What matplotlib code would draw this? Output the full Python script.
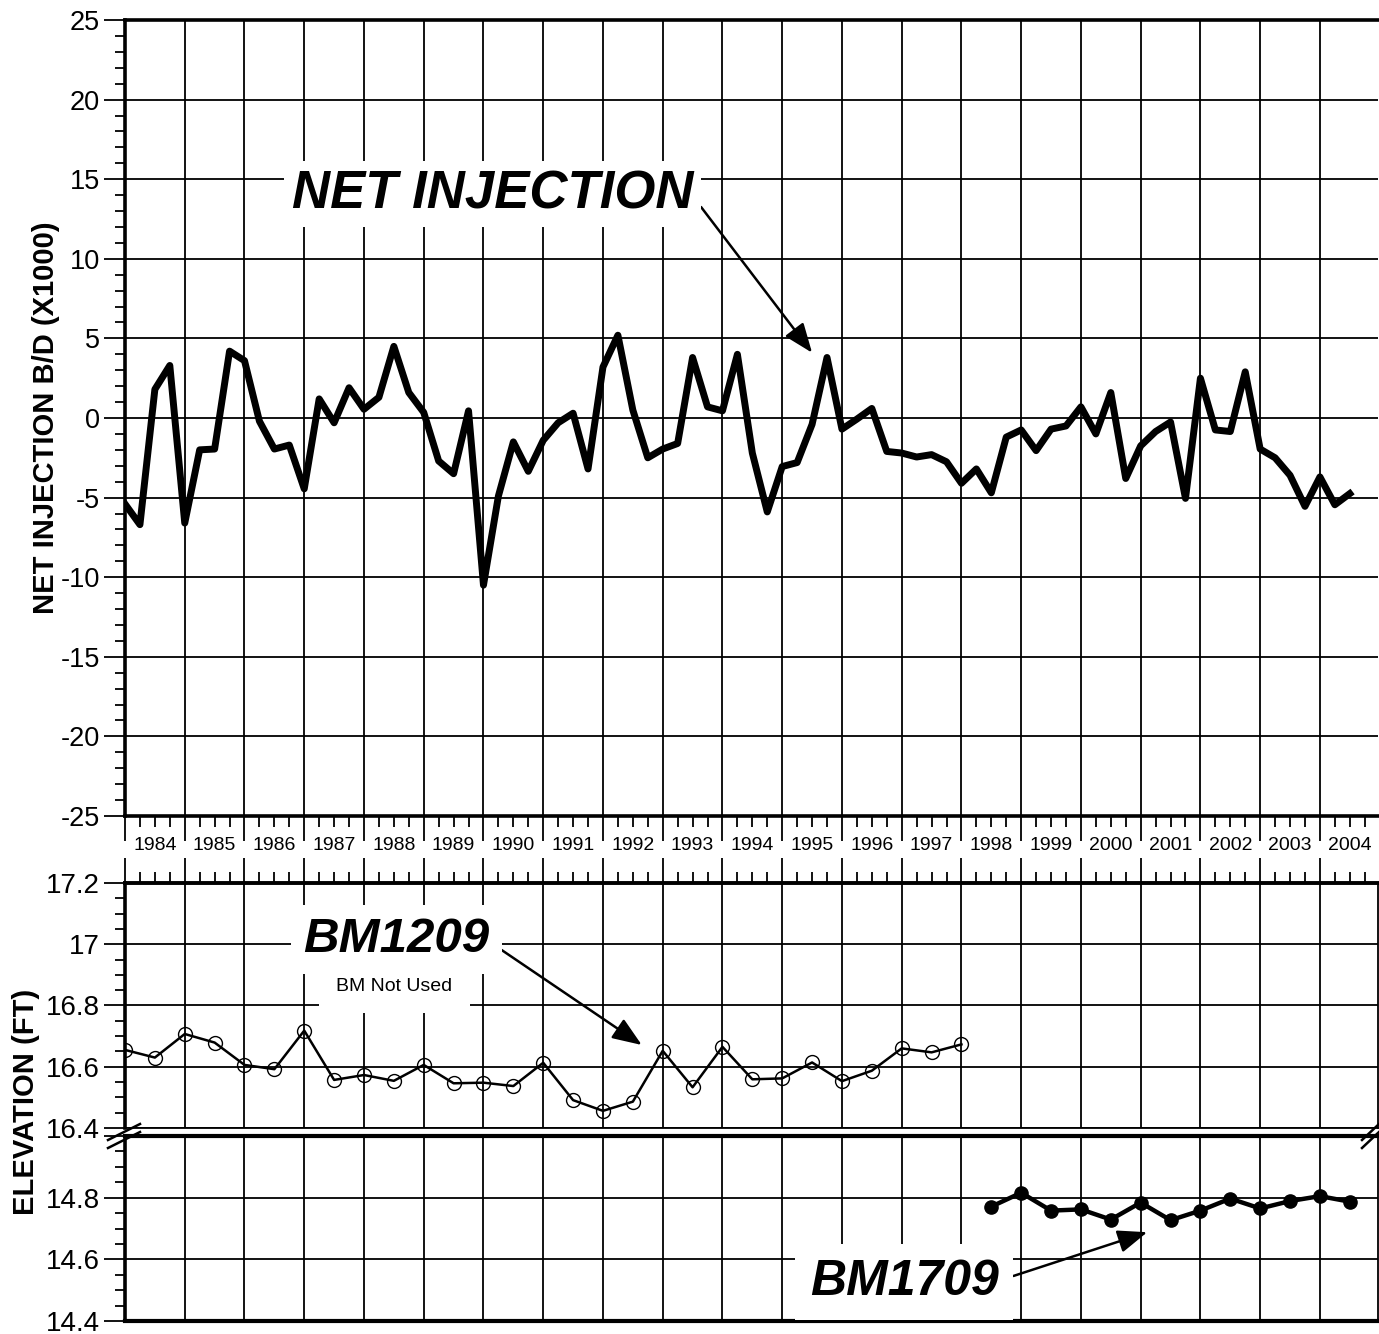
import numpy as np
import matplotlib
matplotlib.use('Agg')
import matplotlib.pyplot as plt
from matplotlib.lines import Line2D
from matplotlib.ticker import MultipleLocator, FixedLocator

plt.rcParams['font.family'] = ['Liberation Sans', 'DejaVu Sans']
plt.rcParams['axes.unicode_minus'] = False

# net injection, quarterly from 1984.0 (B/D x1000)
inj_start = 1984.0
inj_step = 0.25
net_injection = [-5.4, -6.7, 1.8, 3.3,
                 -6.6, -2.0, -1.95, 4.2,
                 3.6, -0.2, -1.95, -1.7,
                 -4.45, 1.2, -0.3, 1.9,
                 0.55, 1.3, 4.5, 1.6,
                 0.35, -2.7, -3.5, 0.45,
                 -10.5, -4.9, -1.5, -3.35,
                 -1.4, -0.3, 0.3, -3.2,
                 3.2, 5.2, 0.5, -2.5,
                 -1.95, -1.6, 3.8, 0.7,
                 0.45, 4.0, -2.2, -5.9,
                 -3.05, -2.8, -0.4, 3.8,
                 -0.7, -0.07, 0.6, -2.1,
                 -2.2, -2.45, -2.3, -2.75,
                 -4.1, -3.2, -4.7, -1.2,
                 -0.75, -2.05, -0.7, -0.5,
                 0.7, -1.0, 1.6, -3.8,
                 -1.75, -0.85, -0.25, -5.05,
                 2.5, -0.75, -0.85, 2.9,
                 -1.95, -2.5, -3.6, -5.55,
                 -3.7, -5.45, -4.75]

# benchmark elevations (ft), semi-annual surveys
bm1209_start = 1984.0
bm1209 = [16.655, 16.63, 16.707, 16.679, 16.606, 16.592, 16.718, 16.557,
          16.573, 16.554, 16.606, 16.546, 16.548, 16.537, 16.613, 16.491,
          16.456, 16.486, 16.652, 16.533, 16.665, 16.559, 16.562, 16.614,
          16.553, 16.587, 16.660, 16.647, 16.673]
bm1709_start = 1998.5
bm1709 = [14.771, 14.816, 14.758, 14.762, 14.729, 14.784, 14.727, 14.758,
          14.797, 14.765, 14.789, 14.805, 14.787]
survey_step = 0.5

years = list(range(1984, 2005))

t_inj = inj_start + inj_step * np.arange(len(net_injection))
t_1209 = bm1209_start + survey_step * np.arange(len(bm1209))
t_1709 = bm1709_start + survey_step * np.arange(len(bm1709))

W, H = 1379, 1334
fig = plt.figure(figsize=(W / 100, H / 100), dpi=100)


def rect(l, t, r, b):
    return [l / W, 1 - b / H, (r - l) / W, (b - t) / H]


ax = fig.add_axes(rect(125, 20, 1378, 816))
ax_hi = fig.add_axes(rect(125, 883, 1378, 1128))
ax_lo = fig.add_axes(rect(125, 1136, 1378, 1321))

xmax = 1984 + (1378 - 124.7) / 59.76
for a in (ax, ax_hi, ax_lo):
    a.set_xlim(1984, xmax)
    a.xaxis.set_major_locator(FixedLocator(years))
    a.xaxis.set_minor_locator(MultipleLocator(0.25))
    a.grid(True, which='major', color='black', lw=1.3)
    a.set_axisbelow(True)
    a.tick_params(which='both', color='black', width=1.3)
    a.tick_params(which='major', length=15)
    a.tick_params(which='minor', length=7)

# ---- top panel: net injection
ax.plot(t_inj, net_injection, color='black', lw=5)
ax.set_ylim(-25, 25)
ax.yaxis.set_major_locator(MultipleLocator(5))
ax.yaxis.set_minor_locator(MultipleLocator(1))
ax.tick_params(axis='y', labelsize=19.5, pad=3)
ax.tick_params(axis='x', which='major', length=18, labelbottom=False)
ax.tick_params(axis='x', which='minor', length=8)
for s in ('top', 'left', 'bottom'):
    ax.spines[s].set_linewidth(2.6)
ax.spines['right'].set_visible(False)
for yr in years:
    ax.text(yr + 0.5, -0.0365, str(yr), transform=ax.get_xaxis_transform(),
            ha='center', va='center', fontsize=14)

fig.text(46 / W, 1 - 418 / H, 'NET INJECTION B/D (X1000)', rotation=90,
         ha='center', va='center', fontsize=21, fontweight='bold')

ax.annotate('NET INJECTION', xy=(1995.5, 4.1), xytext=(1990.15, 13.18),
            ha='center', va='baseline', fontsize=38, fontweight='bold',
            fontstyle='italic',
            bbox=dict(boxstyle='square,pad=0.15', fc='white', ec='none'),
            arrowprops=dict(arrowstyle='-|>,head_length=0.9,head_width=0.35',
                            mutation_scale=20, lw=1.8, color='black',
                            shrinkA=0, shrinkB=0, relpos=(1.0, 0.45)))

# ---- upper elevation panel: BM1209
ax_hi.plot(t_1209, bm1209, color='black', lw=1.8, marker='o', ms=10,
           mfc='none', mec='black', mew=1.0)
ax_hi.set_ylim(16.4, 17.2)
ax_hi.yaxis.set_major_locator(FixedLocator([16.4, 16.6, 16.8, 17.0, 17.2]))
ax_hi.set_yticklabels(['16.4', '16.6', '16.8', '17', '17.2'])
ax_hi.yaxis.set_minor_locator(MultipleLocator(0.05))
ax_hi.tick_params(axis='y', labelsize=20, pad=3)
ax_hi.tick_params(axis='x', which='both', bottom=False, top=True,
                  labelbottom=False, labeltop=False)
ax_hi.tick_params(axis='x', which='major', length=18)
ax_hi.tick_params(axis='x', which='minor', length=8)
ax_hi.spines['top'].set_linewidth(2.8)
ax_hi.spines['left'].set_linewidth(2.6)
ax_hi.spines['bottom'].set_linewidth(1.3)
ax_hi.spines['right'].set_linewidth(1.3)

ax_hi.annotate('BM1209', xy=(1992.65, 16.671), xytext=(1988.54, 16.975),
               ha='center', va='baseline', fontsize=35.5, fontweight='bold',
               fontstyle='italic',
               bbox=dict(boxstyle='square,pad=0.25', fc='white', ec='none'),
               arrowprops=dict(arrowstyle='-|>,head_length=0.9,head_width=0.35',
                               mutation_scale=20, lw=1.8, color='black',
                               shrinkA=0, shrinkB=0, relpos=(1.0, 0.45)))
ax_hi.text(1988.51, 16.861, 'BM Not Used', ha='center', va='center',
           fontsize=14,
           bbox=dict(boxstyle='square,pad=0.9', fc='white', ec='none'))

# ---- lower elevation panel: BM1709
ax_lo.plot(t_1709, bm1709, color='black', lw=3.2, marker='o', ms=9.5,
           mfc='black', mec='black')
ax_lo.set_ylim(14.4, 15.0)
ax_lo.yaxis.set_major_locator(FixedLocator([14.4, 14.6, 14.8, 15.0]))
ax_lo.set_yticklabels(['14.4', '14.6', '14.8', ''])
ax_lo.yaxis.set_minor_locator(MultipleLocator(0.05))
ax_lo.tick_params(axis='y', labelsize=20, pad=3)
ax_lo.tick_params(axis='x', which='both', bottom=False, labelbottom=False)
ax_lo.spines['top'].set_linewidth(3.0)
ax_lo.spines['left'].set_linewidth(2.6)
ax_lo.spines['bottom'].set_linewidth(3.0)
ax_lo.spines['right'].set_linewidth(1.3)

ax_lo.annotate('BM1709', xy=(2001.11, 14.688), xytext=(1997.04, 14.485),
               ha='center', va='baseline', fontsize=36, fontweight='bold',
               fontstyle='italic',
               bbox=dict(boxstyle='square,pad=0.3', fc='white', ec='none'),
               arrowprops=dict(arrowstyle='-|>,head_length=0.9,head_width=0.35',
                               mutation_scale=20, lw=1.8, color='black',
                               shrinkA=0, shrinkB=0, relpos=(1.0, 0.52)))

fig.text(26 / W, 1 - 1102 / H, 'ELEVATION (FT)', rotation=90,
         ha='center', va='center', fontsize=21, fontweight='bold')

# axis break marks
for x0, x1 in ((108, 140), (1362, 1379)):
    for dy in (0, 8):
        fig.add_artist(Line2D([x0 / W, x1 / W],
                              [1 - (1140 + dy) / H, 1 - (1124 + dy) / H],
                              color='black', lw=1.8))

fig.savefig('out.png', dpi=100, facecolor='white')
